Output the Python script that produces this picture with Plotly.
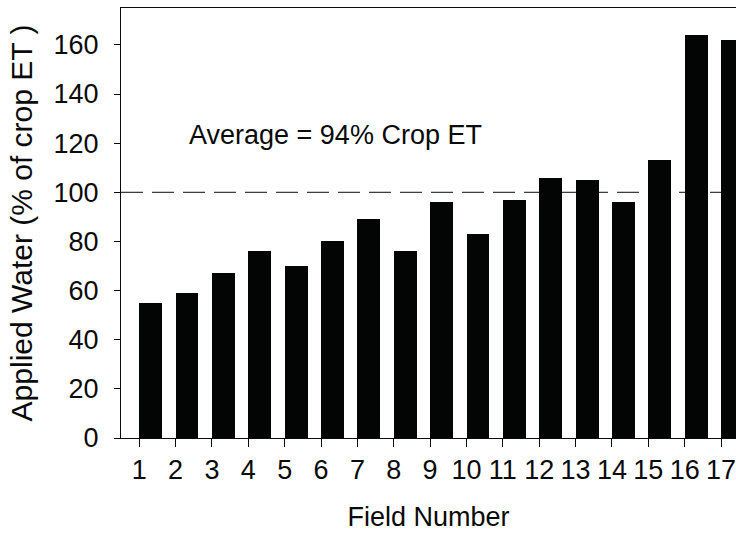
import plotly.graph_objects as go

fields = list(range(1, 18))
applied_water = [55, 59, 67, 76, 70, 80, 89, 76, 96, 83, 97, 106, 105, 96, 113, 164, 162]
y_ticks = [0, 20, 40, 60, 80, 100, 120, 140, 160]
reference_level = 100
note_text = "Average = 94% Crop ET"

FONT = "Arial, 'Liberation Sans', sans-serif"
INK = "#0a0a0a"

fig = go.Figure()
fig.add_trace(go.Bar(
    x=fields, y=applied_water,
    offset=0, width=0.63,
    marker=dict(color="#030505", line=dict(width=0)),
    showlegend=False, hoverinfo="skip",
))

fig.add_shape(type="line", xref="paper", yref="y",
              x0=0, x1=1, y0=reference_level, y1=reference_level,
              line=dict(color=INK, width=1, dash="22px,9px"), layer="below")

fig.add_annotation(text=note_text, xref="paper", yref="paper",
                   x=0.108, y=0.705, xanchor="left", yanchor="middle",
                   showarrow=False, font=dict(family=FONT, size=27, color=INK))

fig.update_layout(
    width=736, height=535,
    margin=dict(l=121, r=0, t=8, b=97, autoexpand=False),
    paper_bgcolor="white", plot_bgcolor="white",
    bargap=0,
    xaxis=dict(
        range=[0.5, 17.41], tickmode="array", tickvals=fields,
        ticktext=[str(f) for f in fields],
        showline=True, linecolor=INK, linewidth=1, mirror=True,
        ticks="outside", ticklen=8, tickcolor=INK, tickwidth=1,
        ticklabeloverflow="allow",
        showgrid=False, zeroline=False,
        tickfont=dict(family=FONT, size=27, color=INK),
        title=dict(text="Field Number", font=dict(family=FONT, size=27, color=INK), standoff=22),
        automargin=False,
    ),
    yaxis=dict(
        range=[0, 175], tickmode="array", tickvals=y_ticks,
        showline=True, linecolor=INK, linewidth=1, mirror=False,
        ticks="outside", ticklen=6, tickcolor=INK, tickwidth=1,
        ticklabelstandoff=10,
        showgrid=False, zeroline=False,
        tickfont=dict(family=FONT, size=27, color=INK),
        title=dict(text="Applied Water (% of crop ET )", font=dict(family=FONT, size=30, color=INK), standoff=12),
        automargin=False,
    ),
)

fig.write_html("out.html", config={"displayModeBar": False},
               post_script="document.body.style.margin='0';document.body.style.overflow='hidden';")
